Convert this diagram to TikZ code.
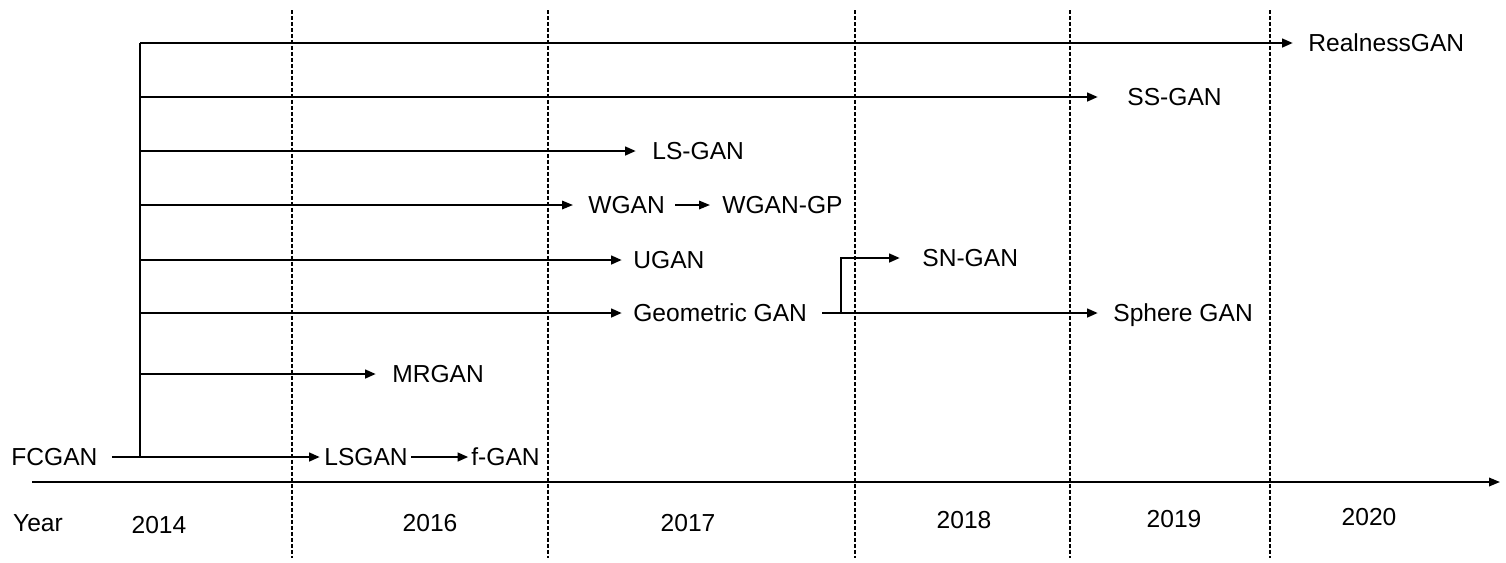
\documentclass[tikz,border=0pt]{standalone}
\usepackage{fontspec}
\setmainfont{Liberation Sans}
\usetikzlibrary{arrows.meta, positioning}

\begin{document}
\begin{tikzpicture}[x=0.02cm, y=-0.02cm, >={Triangle[length=2.2mm,width=1.7mm]},
  lbl/.style={inner sep=0pt, text height=10pt, text depth=0pt, anchor=west, font=\fontsize{14}{16}\selectfont},
  yr/.style={inner sep=0pt, text height=10pt, text depth=0pt, font=\fontsize{14}{16}\selectfont},
  arr/.style={->, line width=1.6pt},
  sep/.style={line width=0.6pt, dash pattern=on 0.08cm off 0.04cm}]
  \useasboundingbox (0,0) rectangle (1506,562);

  % year separators
  \foreach \x in {292,548,855,1070,1270}
    \draw[sep] (\x,10) -- (\x,558);

  % time axis
  \coordinate (ax0) at (32,482);
  \coordinate (ax1) at (1500,482);
  \draw[->, line width=1.1pt] (ax0) -- (ax1);
  \node[yr] (year) at (38,523) {Year};
  \node[yr] (y14) at (159,525) {2014};
  \node[yr] (y16) at (430,523) {2016};
  \node[yr] (y17) at (688,523) {2017};
  \node[yr] (y18) at (964,520) {2018};
  \node[yr] (y19) at (1174,519) {2019};
  \node[yr] (y20) at (1369,517) {2020};

  % models
  \node[lbl] (fcgan) at (11,457) {FCGAN};
  \node[lbl] (lsgan) at (324,457) {LSGAN};
  \node[lbl] (fgan) at (471,457) {f-GAN};
  \node[lbl] (mrgan) at (392,374) {MRGAN};
  \node[lbl] (geo) at (633,313) {Geometric GAN};
  \node[lbl] (sphere) at (1113,313) {Sphere GAN};
  \node[lbl] (sngan) at (922,258) {SN-GAN};
  \node[lbl] (ugan) at (633,260) {UGAN};
  \node[lbl] (wgan) at (588,205) {WGAN};
  \node[lbl] (wgangp) at (722,205) {WGAN-GP};
  \node[lbl] (lsgan2) at (652,151) {LS-GAN};
  \node[lbl] (ssgan) at (1127,97) {SS-GAN};
  \node[lbl] (realness) at (1308,43) {RealnessGAN};

  % trunk
  \coordinate (top) at (140,43);
  \coordinate (bot) at (140,457);
  \draw[line width=1.3pt] (top) -- (bot);

  % branches
  \draw[arr, shorten <=0.28cm, shorten >=0.08cm] (fcgan.east) -- (lsgan.west);
  \draw[arr, shorten <=0.06cm, shorten >=0.05cm] (lsgan.east) -- (fgan.west);
  \draw[arr, shorten >=0.32cm] (top |- mrgan.west) -- (mrgan.west);
  \draw[arr, shorten >=0.22cm] (top |- geo.west) -- (geo.west);
  \draw[arr, shorten <=0.3cm, shorten >=0.3cm] (geo.east) -- (sphere.west);
  \coordinate (fork) at (841,313);
  \draw[arr, shorten >=0.44cm] (fork) |- (sngan.west);
  \draw[arr, shorten >=0.22cm] (top |- ugan.west) -- (ugan.west);
  \draw[->, line width=1pt, shorten >=0.3cm] (top |- wgan.west) -- (wgan.west);
  \draw[->, line width=1pt, shorten <=0.2cm, shorten >=0.24cm] (wgan.east) -- (wgangp.west);
  \draw[arr, shorten >=0.32cm] (top |- lsgan2.west) -- (lsgan2.west);
  \draw[arr, shorten >=0.58cm] (top |- ssgan.west) -- (ssgan.west);
  \draw[arr, shorten >=0.3cm] (top) -- (realness.west);
\end{tikzpicture}
\end{document}
